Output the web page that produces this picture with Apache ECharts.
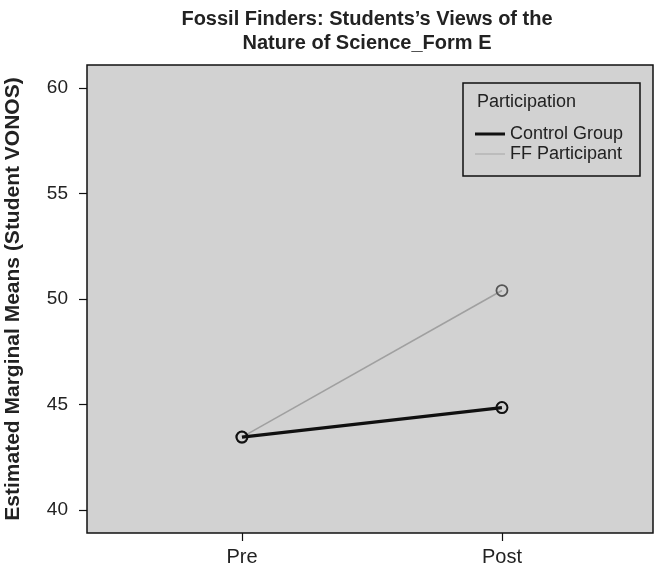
<!DOCTYPE html>
<html>
<head>
<meta charset="utf-8">
<script src="https://cdn.jsdelivr.net/npm/echarts@6/dist/echarts.min.js"></script>
<style>
html,body{margin:0;padding:0;background:#fff;}
#chart{width:655px;height:574px;}
</style>
</head>
<body>
<div id="chart"></div>
<script>
const categories = ['Pre', 'Post'];
const controlGroup = [43.45, 44.85];
const ffParticipant = [43.45, 50.4];
const yTicks = [40, 45, 50, 55, 60];
const seriesNames = ['Control Group', 'FF Participant'];

const FONT = 'Liberation Sans, Arial, Helvetica, sans-serif';
const chart = echarts.init(document.getElementById('chart'));
const toPts = arr => arr.map((v, i) => [i, v]);

chart.setOption({
  backgroundColor: '#fff',
  animation: false,
  title: {
    text: 'Fossil Finders: Students\u2019s Views of the\nNature of Science_Form E',
    left: 362, top: 2, textAlign: 'center',
    textStyle: {fontFamily: FONT, fontSize: 20, fontWeight: 'bold', color: '#222', lineHeight: 24}
  },
  grid: {
    left: 87, right: 2, top: 65, bottom: 41,
    outerBoundsMode: 'none', containLabel: false,
    show: true, backgroundColor: '#d2d2d2', borderColor: '#111', borderWidth: 1.5
  },
  xAxis: {
    type: 'value', min: -0.596, max: 1.581,
    axisLine: {show: false, onZero: false},
    splitLine: {show: false},
    axisTick: {show: true, customValues: [0, 1], length: 8, lineStyle: {color: '#111', width: 1.2}},
    axisLabel: {
      customValues: [0, 1], margin: 14,
      formatter: v => categories[Math.round(v)],
      fontFamily: FONT, fontSize: 20, color: '#222'
    }
  },
  yAxis: {
    type: 'value', min: 38.9, max: 61.1,
    name: 'Estimated Marginal Means (Student VONOS)',
    nameLocation: 'middle', nameGap: 63,
    nameTextStyle: {fontFamily: FONT, fontSize: 21, fontWeight: 'bold', color: '#222'},
    axisLine: {show: false, onZero: false},
    splitLine: {show: false},
    axisTick: {show: true, customValues: yTicks, length: 8, lineStyle: {color: '#111', width: 1.2}},
    axisLabel: {customValues: yTicks, margin: 19, fontFamily: FONT, fontSize: 19, color: '#222'}
  },
  legend: {
    orient: 'vertical', left: 470, top: 120, itemGap: 2,
    itemWidth: 30, itemHeight: 14,
    textStyle: {fontFamily: FONT, fontSize: 18, color: '#222', padding: [0, 0, 0, 0]},
    itemStyle: {borderWidth: 0},
    data: [
      {name: seriesNames[0], icon: 'path://M0,0H30V3H0Z', itemStyle: {color: '#111', borderWidth: 0}},
      {name: seriesNames[1], icon: 'path://M0,0H60V3H0Z', itemStyle: {color: '#b4b4b4', borderWidth: 0}}
    ]
  },
  graphic: [
    {type: 'rect', shape: {x: 463, y: 83, width: 177, height: 93},
     style: {fill: '#d2d2d2', stroke: '#111', lineWidth: 1.5}, z: 0},
    {type: 'text', x: 477, y: 93, z: 1,
     style: {text: 'Participation', fontFamily: FONT, fontSize: 18, fill: '#222'}}
  ],
  series: [
    {
      name: seriesNames[1], type: 'line', data: toPts(ffParticipant),
      symbol: 'circle', symbolSize: 11,
      lineStyle: {color: '#a0a0a0', width: 1.6},
      itemStyle: {color: 'rgba(0,0,0,0)', borderColor: '#555', borderWidth: 1.8},
      z: 3
    },
    {
      name: seriesNames[0], type: 'line', data: toPts(controlGroup),
      symbol: 'circle', symbolSize: 11,
      lineStyle: {color: '#111', width: 3.2},
      itemStyle: {color: 'rgba(0,0,0,0)', borderColor: '#111', borderWidth: 2},
      z: 4
    }
  ]
});
</script>
</body>
</html>
